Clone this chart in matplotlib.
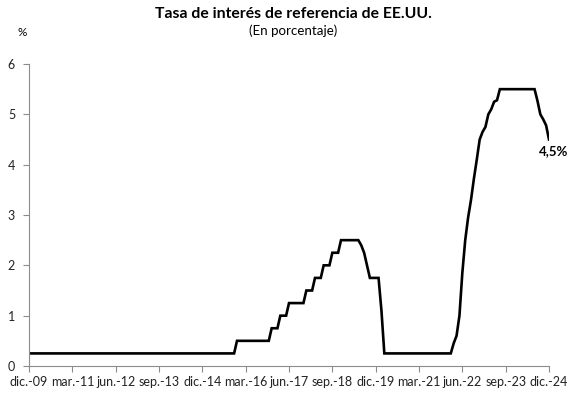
import numpy as np
import matplotlib.pyplot as plt

plt.rcParams.update({"font.family": ["Lato", "DejaVu Sans"],
                     "font.size": 9})

# tasa mensual (límite superior), desde dic.-09 hasta dic.-24
rate_2009 = [0.25]
rate_2010 = [0.25] * 12
rate_2011 = [0.25] * 12
rate_2012 = [0.25] * 12
rate_2013 = [0.25] * 12
rate_2014 = [0.25] * 12
rate_2015 = [0.25, 0.25, 0.25, 0.25, 0.25, 0.25, 0.25, 0.25, 0.25, 0.25, 0.25, 0.5]
rate_2016 = [0.5, 0.5, 0.5, 0.5, 0.5, 0.5, 0.5, 0.5, 0.5, 0.5, 0.5, 0.75]
rate_2017 = [0.75, 0.75, 1.0, 1.0, 1.0, 1.25, 1.25, 1.25, 1.25, 1.25, 1.25, 1.5]
rate_2018 = [1.5, 1.5, 1.75, 1.75, 1.75, 2.0, 2.0, 2.0, 2.25, 2.25, 2.25, 2.5]
rate_2019 = [2.5, 2.5, 2.5, 2.5, 2.5, 2.5, 2.4, 2.25, 2.0, 1.75, 1.75, 1.75]
rate_2020 = [1.75, 1.1, 0.25, 0.25, 0.25, 0.25, 0.25, 0.25, 0.25, 0.25, 0.25, 0.25]
rate_2021 = [0.25] * 12
rate_2022 = [0.25, 0.25, 0.45, 0.6, 1.0, 1.85, 2.5, 2.95, 3.3, 3.72, 4.1, 4.5]
rate_2023 = [4.65, 4.75, 5.0, 5.1, 5.25, 5.28, 5.5, 5.5, 5.5, 5.5, 5.5, 5.5]
rate_2024 = [5.5, 5.5, 5.5, 5.5, 5.5, 5.5, 5.5, 5.27, 5.0, 4.9, 4.78, 4.5]

rate = (rate_2009 + rate_2010 + rate_2011 + rate_2012 + rate_2013 + rate_2014
        + rate_2015 + rate_2016 + rate_2017 + rate_2018 + rate_2019 + rate_2020
        + rate_2021 + rate_2022 + rate_2023 + rate_2024)
months = np.arange(len(rate))

tick_labels = ["dic.-09", "mar.-11", "jun.-12", "sep.-13", "dic.-14", "mar.-16",
               "jun.-17", "sep.-18", "dic.-19", "mar.-21", "jun.-22", "sep.-23",
               "dic.-24"]
last_label = "4,5%"

fig = plt.figure(figsize=(5.86, 3.96), dpi=100)
ax = fig.add_axes([29/586, 1-366/396, 520/586, 302/396])
ax.plot(months, rate, color="black", lw=1.9, solid_joinstyle="miter")

ax.set_xlim(0, len(rate) - 1)
ax.set_ylim(0, 6)
ax.set_xticks(np.arange(0, len(rate), 15))
ax.set_xticklabels(tick_labels)
ax.set_yticks(range(7))
for s in ["top", "right"]:
    ax.spines[s].set_visible(False)
for s in ["left", "bottom"]:
    ax.spines[s].set_color("#8c8c8c")
    ax.spines[s].set_linewidth(0.8)
ax.tick_params(colors="#8c8c8c", length=4, width=0.8, labelcolor="#222222",
               labelsize=9)
ax.tick_params(axis="y", pad=6)

ax.annotate(last_label, (months[-1], rate[-1]), xytext=(3, -8),
            textcoords="offset points", ha="center", va="center",
            fontweight="bold", fontsize=9.5)

fig.text(0.5, 1-14/396, "Tasa de interés de referencia de EE.UU.", ha="center",
         va="center", fontweight="bold", fontsize=11.3)
fig.text(0.5, 1-31/396, "(En porcentaje)", ha="center", va="center", fontsize=9.6)
fig.text(22/586, 1-32/396, "%", ha="center", va="center", fontsize=8.5)

fig.savefig("out.png", dpi=100)
